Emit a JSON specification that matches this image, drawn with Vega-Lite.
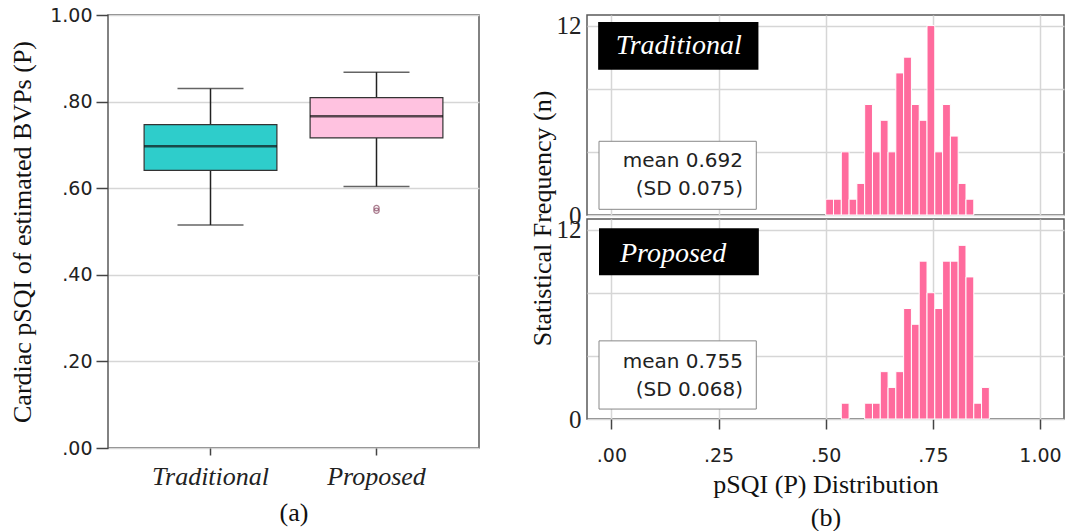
{
  "$schema": "https://vega.github.io/schema/vega-lite/v6.json",
  "padding": {"left": 8, "top": 5, "right": 0, "bottom": 0},
  "background": "white",
  "config": {
    "view": {"stroke": "#5a5a5a", "strokeWidth": 1.5},
    "axis": {"domainColor": "#444", "tickColor": "#444", "labelColor": "#222", "titleColor": "#111", "gridColor": "#d6d6d6", "gridWidth": 1.5, "domainWidth": 1.5, "tickWidth": 1.5}
  },
  "datasets": {
    "box": [
      {"method": "Traditional", "lower": 0.515, "q1": 0.641, "median": 0.697, "q3": 0.747, "upper": 0.830},
      {"method": "Proposed", "lower": 0.604, "q1": 0.716, "median": 0.766, "q3": 0.809, "upper": 0.868}
    ],
    "out": [
      {"method": "Proposed", "value": 0.548},
      {"method": "Proposed", "value": 0.554}
    ],
    "hist": [
      {"group": "Traditional", "x0": 0.5000, "x1": 0.5182, "n": 1},
      {"group": "Traditional", "x0": 0.5182, "x1": 0.5364, "n": 1},
      {"group": "Traditional", "x0": 0.5364, "x1": 0.5545, "n": 4},
      {"group": "Traditional", "x0": 0.5545, "x1": 0.5727, "n": 1},
      {"group": "Traditional", "x0": 0.5727, "x1": 0.5909, "n": 2},
      {"group": "Traditional", "x0": 0.5909, "x1": 0.6091, "n": 7},
      {"group": "Traditional", "x0": 0.6091, "x1": 0.6273, "n": 4},
      {"group": "Traditional", "x0": 0.6273, "x1": 0.6455, "n": 6},
      {"group": "Traditional", "x0": 0.6455, "x1": 0.6636, "n": 4},
      {"group": "Traditional", "x0": 0.6636, "x1": 0.6818, "n": 9},
      {"group": "Traditional", "x0": 0.6818, "x1": 0.7000, "n": 10},
      {"group": "Traditional", "x0": 0.7000, "x1": 0.7182, "n": 7},
      {"group": "Traditional", "x0": 0.7182, "x1": 0.7364, "n": 6},
      {"group": "Traditional", "x0": 0.7364, "x1": 0.7545, "n": 12},
      {"group": "Traditional", "x0": 0.7545, "x1": 0.7727, "n": 4},
      {"group": "Traditional", "x0": 0.7727, "x1": 0.7909, "n": 7},
      {"group": "Traditional", "x0": 0.7909, "x1": 0.8091, "n": 5},
      {"group": "Traditional", "x0": 0.8091, "x1": 0.8273, "n": 2},
      {"group": "Traditional", "x0": 0.8273, "x1": 0.8455, "n": 1},
      {"group": "Proposed", "x0": 0.5364, "x1": 0.5545, "n": 1},
      {"group": "Proposed", "x0": 0.5909, "x1": 0.6091, "n": 1},
      {"group": "Proposed", "x0": 0.6091, "x1": 0.6273, "n": 1},
      {"group": "Proposed", "x0": 0.6273, "x1": 0.6455, "n": 3},
      {"group": "Proposed", "x0": 0.6455, "x1": 0.6636, "n": 2},
      {"group": "Proposed", "x0": 0.6636, "x1": 0.6818, "n": 3},
      {"group": "Proposed", "x0": 0.6818, "x1": 0.7000, "n": 7},
      {"group": "Proposed", "x0": 0.7000, "x1": 0.7182, "n": 6},
      {"group": "Proposed", "x0": 0.7182, "x1": 0.7364, "n": 10},
      {"group": "Proposed", "x0": 0.7364, "x1": 0.7545, "n": 8},
      {"group": "Proposed", "x0": 0.7545, "x1": 0.7727, "n": 7},
      {"group": "Proposed", "x0": 0.7727, "x1": 0.7909, "n": 10},
      {"group": "Proposed", "x0": 0.7909, "x1": 0.8091, "n": 10},
      {"group": "Proposed", "x0": 0.8091, "x1": 0.8273, "n": 11},
      {"group": "Proposed", "x0": 0.8273, "x1": 0.8455, "n": 9},
      {"group": "Proposed", "x0": 0.8455, "x1": 0.8636, "n": 1},
      {"group": "Proposed", "x0": 0.8636, "x1": 0.8818, "n": 2}
    ],
    "annot": [
      {"group": "Traditional", "label": "Traditional", "l1": "mean 0.692", "l2": "(SD 0.075)"},
      {"group": "Proposed", "label": "Proposed", "l1": "mean 0.755", "l2": "(SD 0.068)"}
    ]
  },
  "spacing": 48,
  "hconcat": [
    {
      "width": 371,
      "height": 433,
      "layer": [
        {
          "data": {"name": "box"},
          "mark": {"type": "rule", "color": "#222", "strokeWidth": 1.5},
          "encoding": {
            "x": {"field": "method", "type": "nominal", "sort": ["Traditional", "Proposed"],
              "scale": {"paddingInner": 0.2, "paddingOuter": 0.2175},
              "axis": {"title": "(a)", "titleFont": "Liberation Serif", "titleFontSize": 26, "titleFontWeight": "normal", "titlePadding": 10,
                "labelFont": "Liberation Serif", "labelFontStyle": "italic", "labelFontSize": 26, "labelAngle": 0, "labelPadding": 8, "tickSize": 7, "domain": false}},
            "y": {"field": "lower", "type": "quantitative",
              "scale": {"domain": [0, 1], "nice": false},
              "axis": {"title": "Cardiac pSQI of estimated BVPs (P)", "titleFont": "Liberation Serif", "titleFontSize": 26, "titleFontWeight": "normal", "titlePadding": 14,
                "values": [0, 0.2, 0.4, 0.6, 0.8, 1], "format": ".2f", "labelExpr": "replace(datum.label, '0.', '.')",
                "labelFont": "DejaVu Sans", "labelFontSize": 19, "labelPadding": 4, "tickSize": 12, "grid": true, "domain": false}},
            "y2": {"field": "upper"}
          }
        },
        {
          "data": {"name": "box"},
          "mark": {"type": "tick", "color": "#222", "size": 66, "thickness": 1.5},
          "encoding": {
            "x": {"field": "method", "type": "nominal", "sort": ["Traditional", "Proposed"]},
            "y": {"field": "lower", "type": "quantitative"}
          }
        },
        {
          "data": {"name": "box"},
          "mark": {"type": "tick", "color": "#222", "size": 66, "thickness": 1.5},
          "encoding": {
            "x": {"field": "method", "type": "nominal", "sort": ["Traditional", "Proposed"]},
            "y": {"field": "upper", "type": "quantitative"}
          }
        },
        {
          "data": {"name": "box"},
          "mark": {"type": "bar", "stroke": "#333", "strokeWidth": 1.2},
          "encoding": {
            "x": {"field": "method", "type": "nominal", "sort": ["Traditional", "Proposed"]},
            "y": {"field": "q1", "type": "quantitative"},
            "y2": {"field": "q3"},
            "color": {"field": "method", "type": "nominal", "scale": {"domain": ["Traditional", "Proposed"], "range": ["#2ecdcb", "#ffc2e0"]}, "legend": null},
            "fillOpacity": {"value": 1}
          }
        },
        {
          "data": {"name": "box"},
          "mark": {"type": "tick", "color": "#111", "size": 133, "thickness": 2.5},
          "encoding": {
            "x": {"field": "method", "type": "nominal", "sort": ["Traditional", "Proposed"]},
            "y": {"field": "median", "type": "quantitative"}
          }
        },
        {
          "data": {"name": "out"},
          "mark": {"type": "point", "shape": "circle", "filled": false, "color": "#8a4a64", "size": 28, "strokeWidth": 1.3},
          "encoding": {
            "x": {"field": "method", "type": "nominal", "sort": ["Traditional", "Proposed"]},
            "y": {"field": "value", "type": "quantitative"}
          }
        }
      ]
    },
    {
      "bounds": "flush",
      "spacing": 4,
      "vconcat": [
        {
          "width": 477,
          "height": 200,
          "layer": [
            {
              "data": {"name": "hist"},
              "transform": [{"filter": "datum.group === 'Traditional'"}],
              "mark": {"type": "rect", "color": "#ff6b9d", "stroke": "white", "strokeWidth": 1},
              "encoding": {
                "x": {"field": "x0", "type": "quantitative", "scale": {"domain": [-0.057, 1.056], "nice": false, "zero": false},
                  "axis": {"title": null, "values": [0, 0.25, 0.5, 0.75, 1], "labels": false, "ticks": false, "domain": false, "grid": true}},
                "x2": {"field": "x1"},
                "y": {"field": "n", "type": "quantitative", "scale": {"domain": [0, 12.67], "nice": false},
                  "axis": {"title": "Statistical Frequency (n)", "titleFont": "Liberation Serif", "titleFontSize": 26, "titleFontWeight": "normal",
                    "titleX": -32, "titleY": 203,
                    "values": [0, 2, 4, 6, 8, 10, 12], "labelExpr": "datum.value % 6 === 0 ? datum.label : ''",
                    "labelFont": "Liberation Serif", "labelFontSize": 25, "labelPadding": 6, "ticks": false, "domain": false, "grid": true}},
                "y2": {"datum": 0}
              }
            },
            {
              "data": {"name": "annot"},
              "transform": [{"filter": "datum.group === 'Traditional'"}],
              "mark": {"type": "rect", "fill": "black"},
              "encoding": {"x": {"datum": -0.031}, "x2": {"datum": 0.343}, "y": {"datum": 12.22}, "y2": {"datum": 9.2}}
            },
            {
              "data": {"name": "annot"},
              "transform": [{"filter": "datum.group === 'Traditional'"}],
              "mark": {"type": "text", "font": "Liberation Serif", "fontStyle": "italic", "fontSize": 28, "color": "white", "align": "center", "baseline": "middle"},
              "encoding": {"x": {"datum": 0.157}, "y": {"datum": 10.68}, "text": {"field": "label"}}
            },
            {
              "data": {"name": "annot"},
              "transform": [{"filter": "datum.group === 'Traditional'"}],
              "mark": {"type": "rect", "fill": "white", "stroke": "#888", "strokeWidth": 1},
              "encoding": {"x": {"datum": -0.029}, "x2": {"datum": 0.338}, "y": {"datum": 4.67}, "y2": {"datum": 0.36}}
            },
            {
              "data": {"name": "annot"},
              "transform": [{"filter": "datum.group === 'Traditional'"}],
              "mark": {"type": "text", "font": "DejaVu Sans", "fontSize": 20, "color": "#222", "align": "right", "baseline": "middle"},
              "encoding": {"x": {"datum": 0.307}, "y": {"datum": 3.39}, "text": {"field": "l1"}}
            },
            {
              "data": {"name": "annot"},
              "transform": [{"filter": "datum.group === 'Traditional'"}],
              "mark": {"type": "text", "font": "DejaVu Sans", "fontSize": 20, "color": "#222", "align": "right", "baseline": "middle"},
              "encoding": {"x": {"datum": 0.307}, "y": {"datum": 1.62}, "text": {"field": "l2"}}
            }
          ]
        },
        {
          "width": 477,
          "height": 200,
          "layer": [
            {
              "data": {"name": "hist"},
              "transform": [{"filter": "datum.group === 'Proposed'"}],
              "mark": {"type": "rect", "color": "#ff6b9d", "stroke": "white", "strokeWidth": 1},
              "encoding": {
                "x": {"field": "x0", "type": "quantitative", "scale": {"domain": [-0.057, 1.056], "nice": false, "zero": false},
                  "axis": {"title": ["pSQI (P) Distribution", "(b)"], "titleFont": "Liberation Serif", "titleFontSize": 26, "titleFontWeight": "normal", "titleLineHeight": 33, "titlePadding": 6,
                    "values": [0, 0.25, 0.5, 0.75, 1], "format": ".2f", "labelExpr": "replace(datum.label, '0.', '.')",
                    "labelFont": "DejaVu Sans", "labelFontSize": 19, "labelPadding": 17, "tickSize": 10, "domain": false, "grid": true}},
                "x2": {"field": "x1"},
                "y": {"field": "n", "type": "quantitative", "scale": {"domain": [0, 12.67], "nice": false},
                  "axis": {"title": null,
                    "values": [0, 2, 4, 6, 8, 10, 12], "labelExpr": "datum.value % 6 === 0 ? datum.label : ''",
                    "labelFont": "Liberation Serif", "labelFontSize": 25, "labelPadding": 6, "ticks": false, "domain": false, "grid": true}},
                "y2": {"datum": 0}
              }
            },
            {
              "data": {"name": "annot"},
              "transform": [{"filter": "datum.group === 'Proposed'"}],
              "mark": {"type": "rect", "fill": "black"},
              "encoding": {"x": {"datum": -0.029}, "x2": {"datum": 0.344}, "y": {"datum": 12.09}, "y2": {"datum": 9.1}}
            },
            {
              "data": {"name": "annot"},
              "transform": [{"filter": "datum.group === 'Proposed'"}],
              "mark": {"type": "text", "font": "Liberation Serif", "fontStyle": "italic", "fontSize": 28, "color": "white", "align": "center", "baseline": "middle"},
              "encoding": {"x": {"datum": 0.144}, "y": {"datum": 10.47}, "text": {"field": "label"}}
            },
            {
              "data": {"name": "annot"},
              "transform": [{"filter": "datum.group === 'Proposed'"}],
              "mark": {"type": "rect", "fill": "white", "stroke": "#888", "strokeWidth": 1},
              "encoding": {"x": {"datum": -0.029}, "x2": {"datum": 0.338}, "y": {"datum": 4.95}, "y2": {"datum": 0.63}}
            },
            {
              "data": {"name": "annot"},
              "transform": [{"filter": "datum.group === 'Proposed'"}],
              "mark": {"type": "text", "font": "DejaVu Sans", "fontSize": 20, "color": "#222", "align": "right", "baseline": "middle"},
              "encoding": {"x": {"datum": 0.307}, "y": {"datum": 3.63}, "text": {"field": "l1"}}
            },
            {
              "data": {"name": "annot"},
              "transform": [{"filter": "datum.group === 'Proposed'"}],
              "mark": {"type": "text", "font": "DejaVu Sans", "fontSize": 20, "color": "#222", "align": "right", "baseline": "middle"},
              "encoding": {"x": {"datum": 0.307}, "y": {"datum": 1.83}, "text": {"field": "l2"}}
            }
          ]
        }
      ]
    }
  ]
}
